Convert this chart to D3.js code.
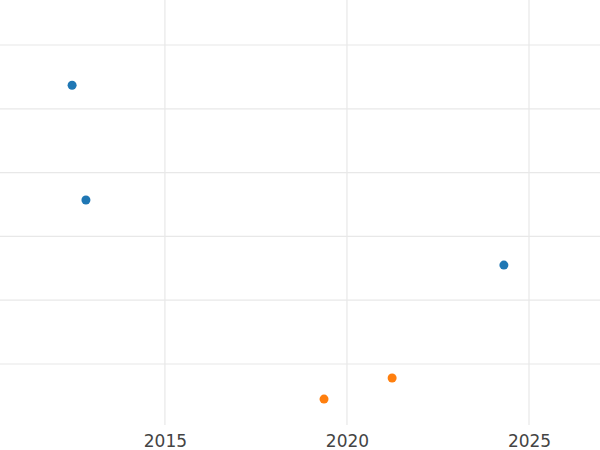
<!DOCTYPE html>
<html>
<head>
<meta charset="utf-8">
<script src="https://cdn.jsdelivr.net/npm/d3@7"></script>
<style>
  body { margin: 0; background: #fff; }
  text { font-family: "DejaVu Sans", sans-serif; }
</style>
</head>
<body>
<svg id="chart" width="600" height="450"></svg>
<script>
/* data */
const seriesA = [
    { year: 2012.45, value: 5.37 },
    { year: 2012.83, value: 3.57 },
    { year: 2024.31, value: 2.55 }
];
const seriesB = [
    { year: 2019.37, value: 0.45 },
    { year: 2021.24, value: 0.78 }
];
const xTicks = [2015, 2020, 2025];
const yTicks = [1, 2, 3, 4, 5, 6];

const svg = d3.select("#chart");

const x = d3.scaleLinear().domain([2010.47, 2026.95]).range([0, 600]);
const y = d3.scaleLinear().domain([1, 6]).range([364, 45]);

// horizontal grid
svg.append("g")
    .selectAll("line")
    .data(yTicks)
    .enter()
    .append("line")
    .attr("x1", 0).attr("x2", 600)
    .attr("y1", d => y(d)).attr("y2", d => y(d))
    .attr("stroke", "#e8e8e8")
    .attr("stroke-width", 1.2);

// vertical grid
svg.append("g")
    .selectAll("line")
    .data(xTicks)
    .enter()
    .append("line")
    .attr("x1", d => x(d)).attr("x2", d => x(d))
    .attr("y1", 0).attr("y2", 425)
    .attr("stroke", "#e8e8e8")
    .attr("stroke-width", 1.2);

// x axis labels
const xAxis = d3.axisBottom(x).tickValues(xTicks).tickFormat(d3.format("d")).tickSize(0).tickPadding(9);
svg.append("g")
    .attr("transform", "translate(0,426)")
    .call(xAxis)
    .call(g => g.select(".domain").remove())
    .call(g => g.selectAll("text").attr("font-size", 17).attr("fill", "#444").attr("font-family", "DejaVu Sans, sans-serif"));

function drawPoints(data, color) {
    svg.append("g")
        .selectAll("circle")
        .data(data)
        .enter()
        .append("circle")
        .attr("cx", d => x(d.year))
        .attr("cy", d => y(d.value))
        .attr("r", 4.5)
        .attr("fill", color);
}

drawPoints(seriesA, "#1f77b4");
drawPoints(seriesB, "#ff7f0e");
</script>
</body>
</html>
